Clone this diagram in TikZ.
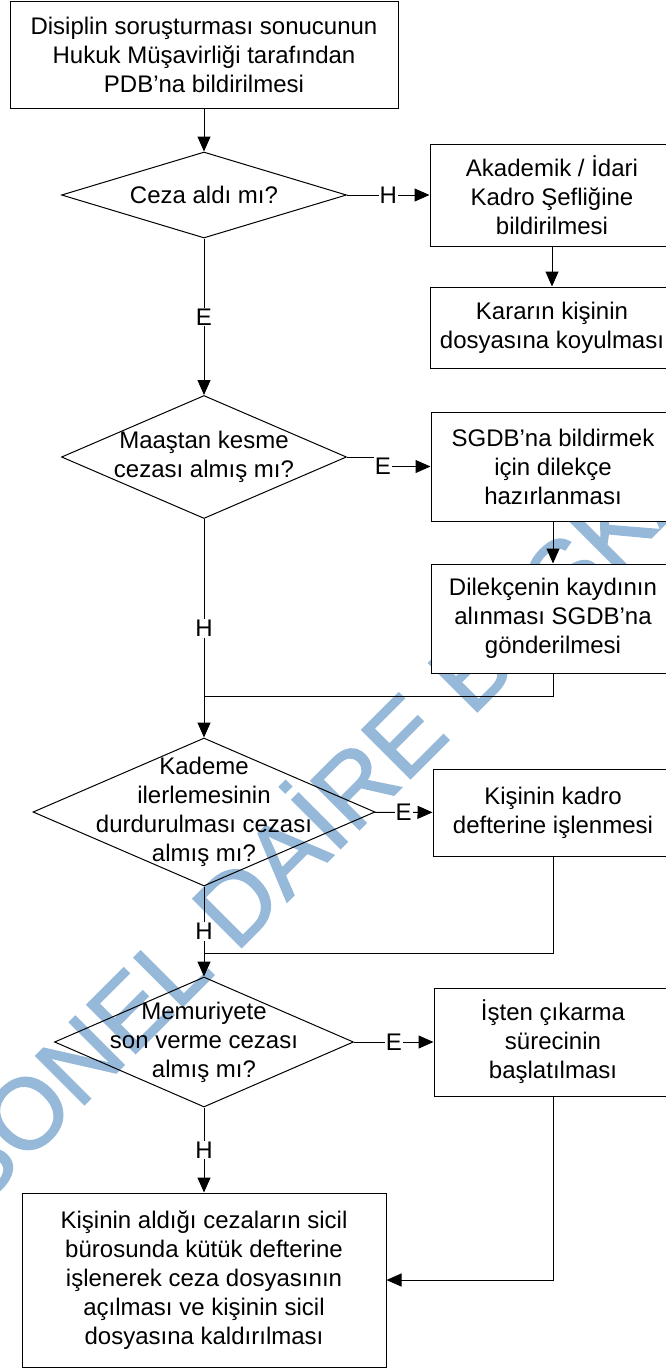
\documentclass[tikz,border=0pt]{standalone}
\usepackage{fontspec}
\setmainfont{Liberation Sans}
\newfontfamily\wmfont[FakeBold=1.5]{Liberation Sans}
\usetikzlibrary{shapes.geometric,arrows.meta}
\definecolor{wmblue}{RGB}{150,185,218}

\begin{document}
\begin{tikzpicture}[x=1pt,y=-1pt,
    every node/.style={font=\fontsize{24}{29}\selectfont, align=center},
    box/.style={draw, fill=white, line width=1pt, inner sep=0pt},
    dec/.style={diamond, draw, line width=1pt, inner sep=0pt},
    lbl/.style={fill=white, inner sep=1pt},
    arr/.style={line width=1pt, -{Triangle[length=15pt,width=13pt]}},
    lin/.style={line width=1pt}]
    \useasboundingbox (0,0) rectangle (665,1369);
    % watermark behind everything
    \node[text=wmblue, font=\wmfont\fontsize{100}{100}\selectfont, rotate=45, anchor=base west, inner sep=0pt] (wmark) at (-169,1358) {PERSONEL DAİRE BAŞKANLIĞI};

    % left column
    \node[box, minimum width=388pt, minimum height=107pt] (top) at (204,54.5) {Disiplin soruşturması sonucunun\\Hukuk Müşavirliği tarafından\\PDB’na bildirilmesi};
    \node[dec, minimum width=285pt, minimum height=86pt, label={center:Ceza aldı mı?}] (d1) at (204,195) {};
    \node[dec, minimum width=285pt, minimum height=123pt, label={center:Maaştan kesme\\cezası almış mı?}] (d2) at (204,457) {};
    \node[dec, minimum width=342pt, minimum height=148pt, label={center:Kademe\\ilerlemesinin\\durdurulması cezası\\almış mı?}] (d3) at (204,812) {};
    \node[dec, minimum width=299pt, minimum height=130pt, label={center:Memuriyete\\son verme cezası\\almış mı?}] (d4) at (204,1042) {};
    \node[box, minimum width=364pt, minimum height=174pt] (final) at (204,1280) {Kişinin aldığı cezaların sicil\\bürosunda kütük defterine\\işlenerek ceza dosyasının\\açılması ve kişinin sicil\\dosyasına kaldırılması};

    % right column
    \node[box, minimum width=244pt, minimum height=102pt] (akad) at (552,195) {Akademik / İdari\\Kadro Şefliğine\\bildirilmesi};
    \node[box, minimum width=244pt, minimum height=81pt] (karar) at (552,327.5) {Kararın kişinin\\dosyasına koyulması};
    \node[box, minimum width=244pt, minimum height=109pt] (sgdb) at (553,466.5) {SGDB’na bildirmek\\için dilekçe\\hazırlanması};
    \node[box, minimum width=244pt, minimum height=109pt] (dilek) at (553,618.5) {Dilekçenin kaydının\\alınması SGDB’na\\gönderilmesi};
    \node[box, minimum width=240pt, minimum height=87pt] (kadro) at (553,812.5) {Kişinin kadro\\defterine işlenmesi};
    \node[box, minimum width=238pt, minimum height=108pt] (isten) at (553,1042) {İşten çıkarma\\sürecinin\\başlatılması};

    \coordinate (j1) at (204,696);
    \coordinate (j2) at (204,953);

    \draw[arr] (top) -- (d1);
    \draw[arr] (d1) -- node[lbl] {H} (akad);
    \draw[arr] (akad) -- (karar);
    \draw[arr] (d1) -- node[lbl] {E} (d2);
    \draw[arr] (d2.east) -| (383,466.5) node[lbl] {E} -- (sgdb);
    \draw[arr] (sgdb) -- (dilek);
    \draw[arr] (d2) -- node[lbl] {H} (d3);
    \draw[lin] (dilek.south) |- (j1);
    \draw[arr] (d3) -- node[lbl] {E} (kadro);
    \draw[arr] (d3) -- node[lbl] {H} (d4);
    \draw[lin] (kadro.south) |- (j2);
    \draw[arr] (d4) -- node[lbl] {E} (isten);
    \draw[arr] (d4) -- node[lbl] {H} (final);
    \draw[arr] (isten.south) |- (final.east);
\end{tikzpicture}
\end{document}
